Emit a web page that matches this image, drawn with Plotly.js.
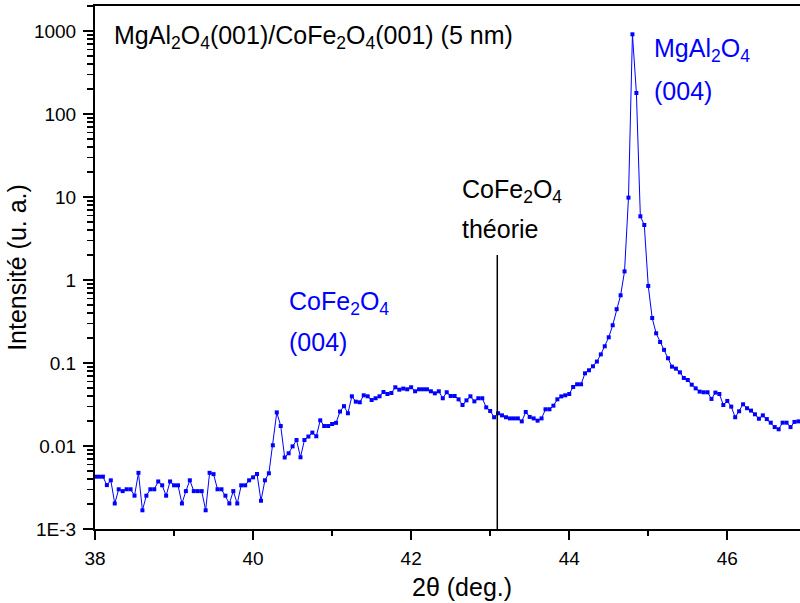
<!DOCTYPE html>
<html>
<head>
<meta charset="utf-8">
<script src="https://cdn.plot.ly/plotly-3.0.1.min.js"></script>
<style>html,body{margin:0;padding:0;background:#fff;}#chart{width:800px;height:603px;}</style>
</head>
<body>
<div id="chart"></div>
<script>
// 2theta (deg.)
const twoTheta = [
 38.00,38.05,38.10,38.15,38.20,38.25,38.30,38.35,38.40,38.45,
 38.50,38.55,38.60,38.65,38.70,38.75,38.80,38.85,38.90,38.95,
 39.00,39.05,39.10,39.15,39.20,39.25,39.30,39.35,39.40,39.45,
 39.50,39.55,39.60,39.65,39.70,39.75,39.80,39.85,39.90,39.95,
 40.00,40.05,40.10,40.15,40.20,40.25,40.30,40.35,40.40,40.45,
 40.50,40.55,40.60,40.65,40.70,40.75,40.80,40.85,40.90,40.95,
 41.00,41.05,41.10,41.15,41.20,41.25,41.30,41.35,41.40,41.45,
 41.50,41.55,41.60,41.65,41.70,41.75,41.80,41.85,41.90,41.95,
 42.00,42.05,42.10,42.15,42.20,42.25,42.30,42.35,42.40,42.45,
 42.50,42.55,42.60,42.65,42.70,42.75,42.80,42.85,42.90,42.95,
 43.00,43.05,43.10,43.15,43.20,43.25,43.30,43.35,43.40,43.45,
 43.50,43.55,43.60,43.65,43.70,43.75,43.80,43.85,43.90,43.95,
 44.00,44.05,44.10,44.15,44.20,44.25,44.30,44.35,44.40,44.45,
 44.50,44.55,44.60,44.65,44.70,44.75,44.80,44.85,44.90,44.95,
 45.00,45.05,45.10,45.15,45.20,45.25,45.30,45.35,45.40,45.45,
 45.50,45.55,45.60,45.65,45.70,45.75,45.80,45.85,45.90,45.95,
 46.00,46.05,46.10,46.15,46.20,46.25,46.30,46.35,46.40,46.45,
 46.50,46.55,46.60,46.65,46.70,46.75,46.80,46.85,46.90,46.95
];
// Intensité (u. a.)
const intensity = [
 0.00427,0.00427,0.00427,0.00338,0.00386,0.00203,0.00301,0.00286,0.00301,0.00301,
 0.00252,0.00475,0.00168,0.00252,0.00301,0.00301,0.00374,0.00336,0.00252,0.00374,
 0.00336,0.00336,0.00203,0.00286,0.00386,0.00286,0.00286,0.00286,0.00168,0.00475,
 0.00458,0.00301,0.00301,0.00252,0.00203,0.00286,0.00203,0.00336,0.00336,0.00386,
 0.00419,0.00460,0.00219,0.00386,0.00469,0.0102,0.0254,0.0174,0.00727,0.00817,
 0.0099,0.0118,0.00731,0.0118,0.0130,0.0145,0.0131,0.0204,0.0174,0.0174,
 0.0184,0.0190,0.0260,0.0302,0.0248,0.0397,0.0342,0.0336,0.0408,0.0397,
 0.0358,0.0376,0.0397,0.0447,0.0423,0.0435,0.0510,0.0477,0.0492,0.0482,
 0.0510,0.0456,0.0482,0.0482,0.0482,0.0456,0.0431,0.0456,0.0376,0.0444,
 0.0400,0.0400,0.0365,0.0312,0.0355,0.0397,0.0345,0.0376,0.0376,0.0292,
 0.0264,0.0222,0.0248,0.0234,0.0222,0.0215,0.0215,0.0215,0.0198,0.0257,
 0.0224,0.0215,0.0202,0.0215,0.0277,0.0277,0.0306,0.0365,0.0396,0.0408,
 0.0423,0.0514,0.0554,0.0554,0.0751,0.0817,0.0912,0.104,0.127,0.159,
 0.204,0.285,0.445,0.654,1.27,9.82,912,179,5.85,4.60,
 0.848,0.348,0.228,0.179,0.144,0.114,0.0903,0.0855,0.0772,0.0660,
 0.0624,0.0548,0.0495,0.0452,0.0444,0.0444,0.0369,0.0440,0.0423,0.0312,
 0.0349,0.0298,0.0222,0.0262,0.0318,0.0285,0.0267,0.0241,0.0213,0.0234,
 0.0211,0.0191,0.0169,0.0159,0.0191,0.0191,0.0169,0.0195,0.0198,0.0180
];
// theoretical CoFe2O4 (004) position
const theoryX = [43.09, 43.09];
const theoryY = [0.001, 2];

const yTickVals = [0.001, 0.01, 0.1, 1, 10, 100, 1000];
const yTickText = ['1E-3', '0.01', '0.1', '1', '10', '100', '1000'];
const xTickVals = [38, 40, 42, 44, 46];

const FONT = 'Arial, "Liberation Sans", sans-serif';
const BLUE = '#0000ff';

const traces = [
  {
    x: twoTheta, y: intensity, type: 'scatter', mode: 'lines+markers',
    line: {color: BLUE, width: 1},
    marker: {color: BLUE, symbol: 'square', size: 4},
    cliponaxis: false, hoverinfo: 'x+y'
  },
  {
    x: theoryX, y: theoryY, type: 'scatter', mode: 'lines',
    line: {color: '#000000', width: 1.5}, hoverinfo: 'skip'
  }
];

function ann(text, px, py, color) {
  return {
    text: text, xref: 'paper', yref: 'paper',
    x: (px - 95) / 705, y: (529 - py) / 523,
    xanchor: 'left', yanchor: 'middle', showarrow: false,
    font: {family: FONT, size: 25, color: color}
  };
}

const xTitle = ann('2θ (deg.)', 462, 587, '#000');
xTitle.xanchor = 'center';

const layout = {
  width: 800, height: 603,
  margin: {l: 95, r: 0, t: 6, b: 74, pad: 0},
  paper_bgcolor: '#ffffff', plot_bgcolor: '#ffffff',
  showlegend: false,
  font: {family: FONT, color: '#000000'},
  xaxis: {
    range: [38, 46.92], tickvals: xTickVals, ticks: 'outside', ticklen: 9, tickwidth: 2,
    tickcolor: '#000', showline: true, linewidth: 2, linecolor: '#000', mirror: true,
    showgrid: false, zeroline: false, tickfont: {family: FONT, size: 19},
    ticklabelstandoff: 2,
    minor: {tickvals: [39, 41, 43, 45], ticks: 'outside', ticklen: 5, tickwidth: 2, tickcolor: '#000', showgrid: false}
  },
  yaxis: {
    type: 'log', range: [-3, 3.301], tickvals: yTickVals, ticktext: yTickText,
    ticks: 'outside', ticklen: 10, tickwidth: 2, tickcolor: '#000',
    showline: true, linewidth: 2, linecolor: '#000', mirror: false,
    showgrid: false, zeroline: false, tickfont: {family: FONT, size: 19},
    ticklabelstandoff: 3,
    minor: {dtick: 'D1', ticks: 'outside', ticklen: 6, tickwidth: 1.5, tickcolor: '#000', showgrid: false},
    title: {text: 'Intensité (u. a.)', font: {family: FONT, size: 25}, standoff: 0}
  },
  annotations: [
    ann('MgAl<sub>2</sub>O<sub>4</sub>(001)/CoFe<sub>2</sub>O<sub>4</sub>(001) (5 nm)', 112, 37, '#000'),
    ann('MgAl<sub>2</sub>O<sub>4</sub>', 652, 50, BLUE),
    ann('(004)', 652, 91, BLUE),
    ann('CoFe<sub>2</sub>O<sub>4</sub>', 460, 191, '#000'),
    ann('théorie', 460, 229, '#000'),
    ann('CoFe<sub>2</sub>O<sub>4</sub>', 287, 303, BLUE),
    ann('(004)', 287, 342, BLUE),
    xTitle
  ]
};

Plotly.newPlot('chart', traces, layout, {staticPlot: true, displayModeBar: false});
</script>
</body>
</html>
